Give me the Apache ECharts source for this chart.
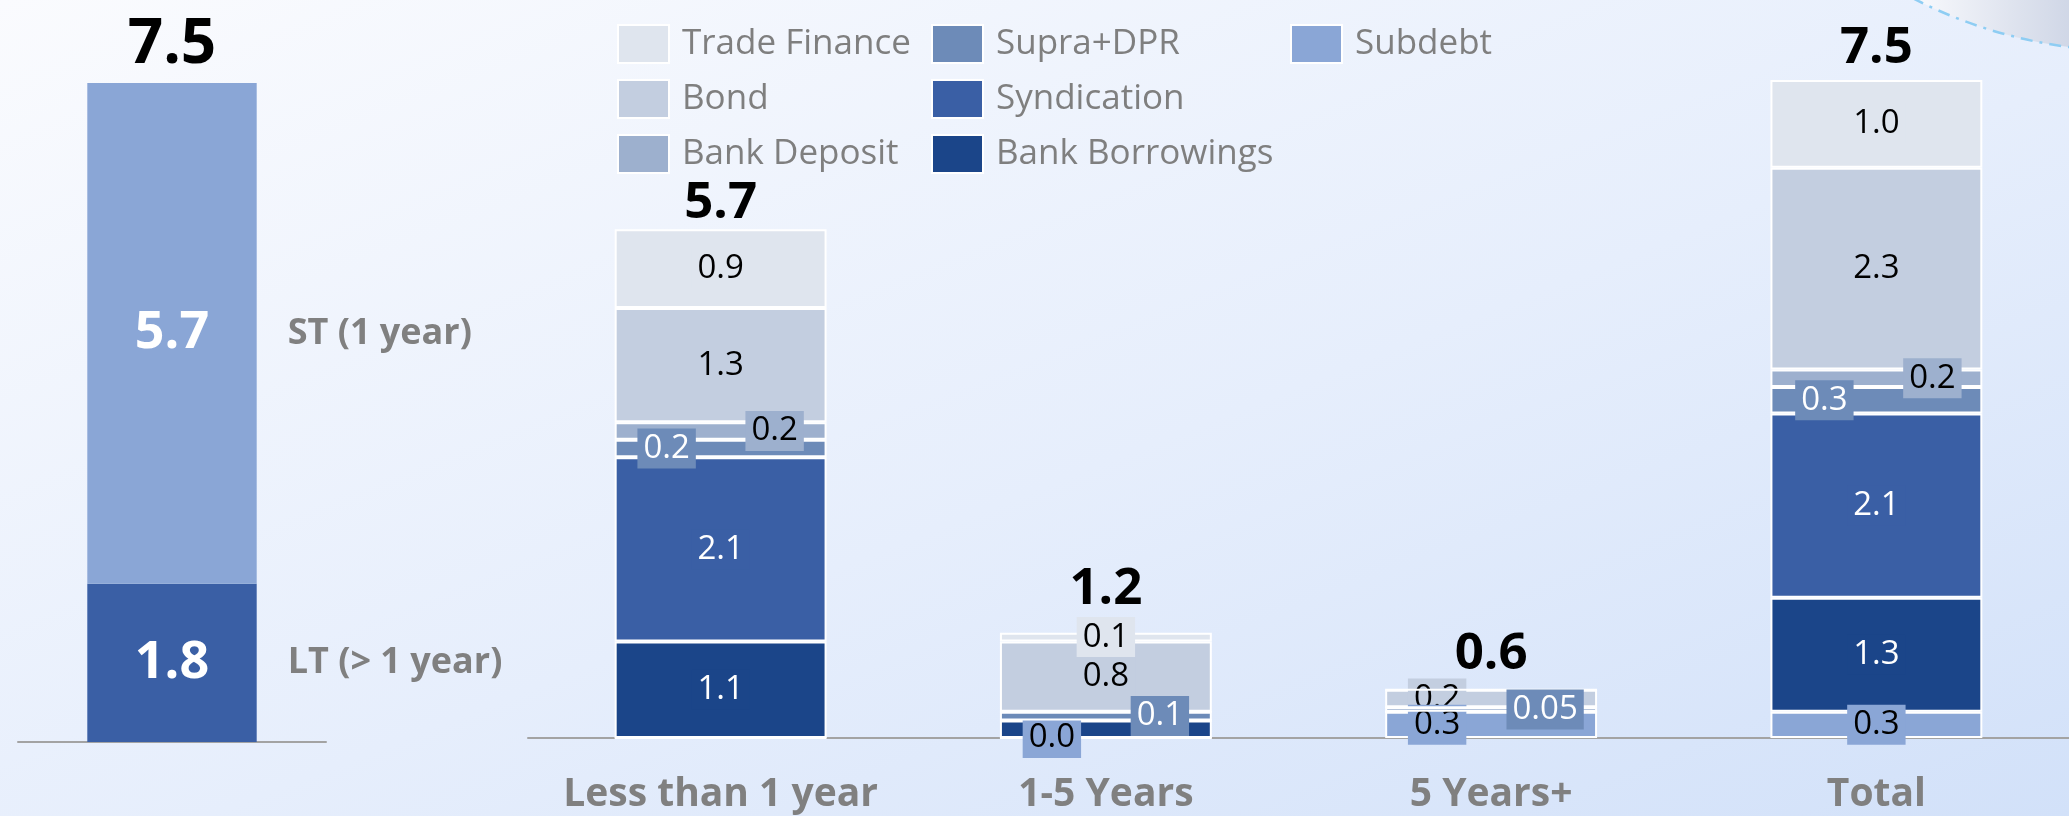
<!DOCTYPE html>
<html>
<head>
<meta charset="utf-8">
<script src="https://cdn.jsdelivr.net/npm/echarts@6/dist/echarts.min.js"></script>
<style>
  html, body { margin: 0; padding: 0; }
  #chart {
    width: 2069px; height: 816px;
    background: linear-gradient(to bottom right, #fafbfe 0%, #e6eefc 55%, #d2e1f9 100%);
  }
</style>
</head>
<body>
<div id="chart"></div>
<script>
// ---- Funding mix by maturity (USD bn) ----
const categories = ['Less than 1 year', '1-5 Years', '5 Years+', 'Total'];
const subdebt        = [0,   0.0, 0.3,  0.3];
const bankBorrowings = [1.1, 0.2, 0,    1.3];
const syndication    = [2.1, 0,   0,    2.1];
const supraDpr       = [0.2, 0.1, 0.05, 0.3];
const bankDeposit    = [0.2, 0,   0,    0.2];
const bond           = [1.3, 0.8, 0.2,  2.3];
const tradeFinance   = [0.9, 0.1, 0,    1.0];
const totals         = [5.7, 1.2, 0.6,  7.5];

// ---- Split by term ----
const termCategories = ['Funding'];
const longTerm  = [1.8];
const shortTerm = [5.7];
const termTotal = [7.5];
const termNames = { lt: 'LT (> 1 year)', st: 'ST (1 year)' };

const FONT = '"Open Sans", "Noto Sans", sans-serif';
const valueMax = 7.5;

// Where each segment's value tag sits (null = no tag), shift from the segment centre.
const tagShift = {
  'Subdebt':         [null, [-54, 0], [-54, 0], [0, 0]],
  'Bank Borrowings': [[0, 0], null, null, [0, 0]],
  'Syndication':     [[0, 0], null, null, [0, 0]],
  'Supra+DPR':       [[-54, 0], [54, 0], [54, 0], [-52, 0]],
  'Bank Deposit':    [[54, 0], null, null, [56, 0]],
  'Bond':            [[0, 0], [0, 0], [-54, 0], [0, 0]],
  'Trade Finance':   [[0, 0], [0, 0], null, [0, 0]]
};
// Extra lift of the stack-top totals, keeping them clear of the small tags
const totalShift = [[0, 6], [0, -12], [0, -4], [0, 0]];

// z decides which tags sit on top where they overlap
const stackSeries = [
  { name: 'Subdebt',         values: subdebt,        color: '#8aa6d6', text: '#000000', z: 3 },
  { name: 'Bank Borrowings', values: bankBorrowings, color: '#1b4589', text: '#ffffff', z: 2 },
  { name: 'Syndication',     values: syndication,    color: '#3a5fa5', text: '#ffffff', z: 2 },
  { name: 'Supra+DPR',       values: supraDpr,       color: '#6d8bb8', text: '#ffffff', z: 4 },
  { name: 'Bank Deposit',    values: bankDeposit,    color: '#9db0ce', text: '#000000', z: 4 },
  { name: 'Bond',            values: bond,           color: '#c3cee0', text: '#000000', z: 2 },
  { name: 'Trade Finance',   values: tradeFinance,   color: '#dfe5ee', text: '#000000', z: 3 }
];

const fmt = v => (v > 0 && v < 0.1) ? v.toFixed(2) : v.toFixed(1);

const mainSeries = stackSeries.map(s => ({
  type: 'bar',
  name: s.name,
  xAxisIndex: 0, yAxisIndex: 0,
  stack: 'mix',
  stackStrategy: 'all',
  barWidth: '55%',
  z: s.z,
  itemStyle: { color: s.color, borderColor: '#ffffff', borderWidth: 2 },
  label: {
    show: true, position: 'inside',
    fontFamily: FONT, fontSize: 33, color: s.text,
    backgroundColor: s.color, padding: [0, 6], lineHeight: 40,
    formatter: p => fmt(p.value)
  },
  emphasis: { disabled: true },
  data: s.values.map((v, i) => {
    const shift = tagShift[s.name][i];
    return shift ? { value: v, label: { show: true, offset: shift } }
                 : { value: v, label: { show: false } };
  })
}));

// Stack-top totals
mainSeries.push({
  type: 'bar', name: 'totals',
  xAxisIndex: 0, yAxisIndex: 0,
  stack: 'mix', stackStrategy: 'all', barWidth: '55%',
  itemStyle: { color: 'transparent', borderWidth: 0 },
  label: {
    show: true, position: 'top', distance: 6,
    fontFamily: FONT, fontSize: 51, fontWeight: 'bold', color: '#000000',
    formatter: p => totals[p.dataIndex].toFixed(1)
  },
  silent: true,
  data: categories.map((c, i) => ({ value: 0, label: { offset: totalShift[i] } }))
});

const termSeries = [
  {
    type: 'bar', name: termNames.lt, xAxisIndex: 1, yAxisIndex: 1,
    stack: 'term', stackStrategy: 'all', barWidth: '55%', barGap: '-100%',
    itemStyle: { color: '#3a5fa5' },
    label: { show: true, position: 'inside', fontFamily: FONT, fontSize: 52, fontWeight: 'bold', color: '#ffffff',
             formatter: p => p.value.toFixed(1) },
    emphasis: { disabled: true },
    data: longTerm
  },
  {
    type: 'bar', name: termNames.st, xAxisIndex: 1, yAxisIndex: 1,
    stack: 'term', stackStrategy: 'all', barWidth: '55%', barGap: '-100%',
    itemStyle: { color: '#8aa6d6' },
    label: { show: true, position: 'inside', fontFamily: FONT, fontSize: 52, fontWeight: 'bold', color: '#ffffff',
             formatter: p => p.value.toFixed(1) },
    emphasis: { disabled: true },
    data: shortTerm
  },
  {
    type: 'bar', name: 'termTotal', xAxisIndex: 1, yAxisIndex: 1,
    stack: 'term', stackStrategy: 'all', barWidth: '55%', barGap: '-100%',
    itemStyle: { color: 'transparent', borderWidth: 0 },
    label: { show: true, position: 'top', distance: 7, fontFamily: FONT, fontSize: 62, fontWeight: 'bold', color: '#000000',
             formatter: p => termTotal[p.dataIndex].toFixed(1) },
    silent: true,
    data: termCategories.map(() => 0)
  },
  // Side captions naming each term segment
  {
    type: 'bar', name: 'ltCaption', xAxisIndex: 1, yAxisIndex: 1,
    stack: 'caption', stackStrategy: 'all', barWidth: '55%', barGap: '-100%',
    itemStyle: { color: 'transparent' },
    label: { show: true, position: 'right', distance: 31, fontFamily: FONT, fontSize: 36, fontWeight: 'bold', color: '#808080',
             formatter: () => termNames.lt },
    silent: true,
    data: longTerm
  },
  {
    type: 'bar', name: 'stCaption', xAxisIndex: 1, yAxisIndex: 1,
    stack: 'caption', stackStrategy: 'all', barWidth: '55%', barGap: '-100%',
    itemStyle: { color: 'transparent' },
    label: { show: true, position: 'right', distance: 31, fontFamily: FONT, fontSize: 36, fontWeight: 'bold', color: '#808080',
             formatter: () => termNames.st },
    silent: true,
    data: shortTerm
  }
];

const legendBase = {
  orient: 'vertical', top: 24, padding: 0,
  icon: 'rect', itemWidth: 51, itemHeight: 38, itemGap: 15,
  selectedMode: false,
  textStyle: { fontFamily: FONT, fontSize: 35, color: '#7f7f7f', lineHeight: 38, padding: [2, 0, 0, 8] }
};

const chart = echarts.init(document.getElementById('chart'), null, { renderer: 'canvas' });
chart.setOption({
  backgroundColor: 'transparent',
  animation: false,
  graphic: [{
    type: 'circle', silent: true, z: -1,
    shape: { cx: 2130, cy: -422, r: 473 },
    style: {
      fill: {
        type: 'linear', x: 0, y: 0, x2: 1, y2: 0,
        colorStops: [
          { offset: 0, color: '#ffffff' },
          { offset: 0.27, color: '#f9fafd' },
          { offset: 0.44, color: '#cfd6e6' },
          { offset: 1, color: '#b8c2d8' }
        ]
      },
      stroke: '#8ecdf3', lineWidth: 2.5, lineDash: [12, 7, 3, 7]
    }
  }],
  legend: [
    Object.assign({}, legendBase, { left: 617, data: ['Trade Finance', 'Bond', 'Bank Deposit'] }),
    Object.assign({}, legendBase, { left: 931, data: ['Supra+DPR', 'Syndication', 'Bank Borrowings'] }),
    Object.assign({}, legendBase, { left: 1290, data: ['Subdebt'] })
  ],
  grid: [
    { left: 528, right: 0, top: 80, bottom: 78, outerBoundsMode: 'none' },
    { left: 18, width: 308, top: 83, bottom: 74, outerBoundsMode: 'none' }
  ],
  xAxis: [
    {
      type: 'category', gridIndex: 0, data: categories,
      axisLine: { lineStyle: { color: '#a3a3a3', width: 2 } },
      axisTick: { show: false },
      axisLabel: { interval: 0, margin: 37, fontFamily: FONT, fontSize: 39, fontWeight: 'bold', color: '#808080' }
    },
    {
      type: 'category', gridIndex: 1, data: termCategories,
      axisLine: { lineStyle: { color: '#a3a3a3', width: 2 } },
      axisTick: { show: false },
      axisLabel: { show: false }
    }
  ],
  yAxis: [
    { type: 'value', gridIndex: 0, min: 0, max: valueMax, show: false, splitLine: { show: false } },
    { type: 'value', gridIndex: 1, min: 0, max: valueMax, show: false, splitLine: { show: false } }
  ],
  series: mainSeries.concat(termSeries)
});
</script>
</body>
</html>
